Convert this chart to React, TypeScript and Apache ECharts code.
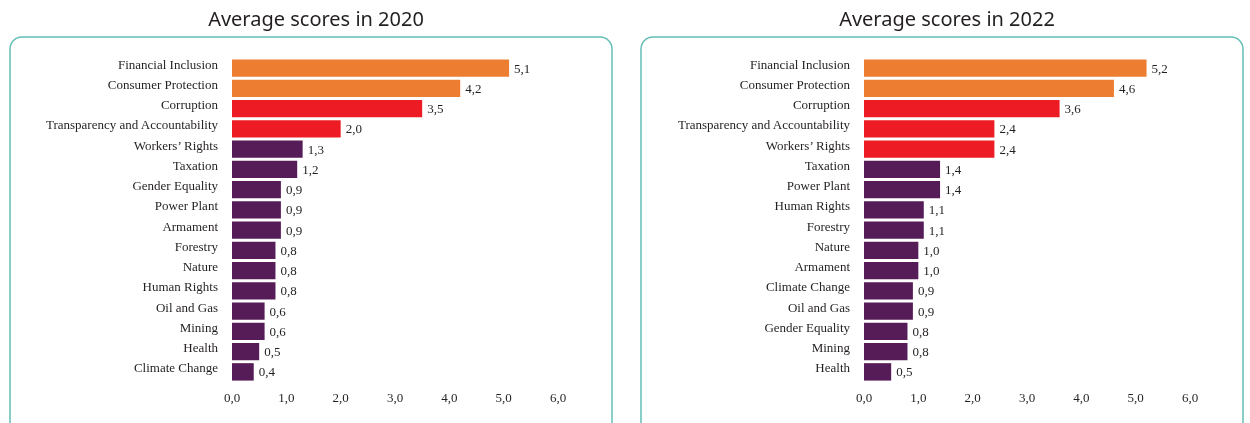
import React, { useEffect, useRef } from "react";
import * as echarts from "echarts";

const categories2020 = [
  "Financial Inclusion", "Consumer Protection", "Corruption", "Transparency and Accountability",
  "Workers’ Rights", "Taxation", "Gender Equality", "Power Plant", "Armament", "Forestry",
  "Nature", "Human Rights", "Oil and Gas", "Mining", "Health", "Climate Change",
];
const values2020 = [5.1, 4.2, 3.5, 2.0, 1.3, 1.2, 0.9, 0.9, 0.9, 0.8, 0.8, 0.8, 0.6, 0.6, 0.5, 0.4];
const tiers2020 = ["top", "top", "high", "high", "other", "other", "other", "other", "other", "other", "other", "other", "other", "other", "other", "other"];

const categories2022 = [
  "Financial Inclusion", "Consumer Protection", "Corruption", "Transparency and Accountability",
  "Workers’ Rights", "Taxation", "Power Plant", "Human Rights", "Forestry", "Nature",
  "Armament", "Climate Change", "Oil and Gas", "Gender Equality", "Mining", "Health",
];
const values2022 = [5.2, 4.6, 3.6, 2.4, 2.4, 1.4, 1.4, 1.1, 1.1, 1.0, 1.0, 0.9, 0.9, 0.8, 0.8, 0.5];
const tiers2022 = ["top", "top", "high", "high", "high", "other", "other", "other", "other", "other", "other", "other", "other", "other", "other", "other"];

const titles = ["Average scores in 2020", "Average scores in 2022"];

const tierColors: Record<string, string> = { top: "#ED7D31", high: "#ED1C24", other: "#561C58" };
const serif = "'Liberation Serif', 'DejaVu Serif', serif";
const sans = "'Noto Sans', 'Open Sans', sans-serif";
const fmt = (v: number) => v.toFixed(1).replace(".", ",");

export default function App() {
  const ref = useRef<HTMLDivElement>(null);
  useEffect(() => {
    if (!ref.current) return;
    const chart = echarts.init(ref.current, undefined, { renderer: "svg" });
    const panels = [
      { cats: categories2020, vals: values2020, tiers: tiers2020, left: 232, boxX: 10, cx: 311 },
      { cats: categories2022, vals: values2022, tiers: tiers2022, left: 864, boxX: 641, cx: 942 },
    ];
    chart.setOption({
      animation: false,
      title: panels.map((p, i) => ({
        text: titles[i],
        left: p.cx,
        textAlign: "center",
        top: 3,
        textStyle: { fontFamily: sans, fontSize: 20, fontWeight: "normal", color: "#231F20" },
      })),
      graphic: panels.map((p) => ({
        type: "rect",
        shape: { x: p.boxX, y: 37, width: 602, height: 410, r: 12 },
        style: { fill: "none", stroke: "#62BDB5", lineWidth: 1.5 },
        z: -1,
      })),
      grid: panels.map((p) => ({ left: p.left, width: 326, top: 58, height: 324 })),
      xAxis: panels.map((_, i) => ({
        type: "value",
        gridIndex: i,
        min: 0,
        max: 6,
        interval: 1,
        axisLine: { show: false },
        axisTick: { show: false },
        splitLine: { show: false },
        axisLabel: { formatter: (v: number) => fmt(v), fontFamily: serif, fontSize: 13, color: "#231F20", margin: 9 },
      })),
      yAxis: panels.map((p, i) => ({
        type: "category",
        gridIndex: i,
        data: p.cats,
        inverse: true,
        axisLine: { show: false },
        axisTick: { show: false },
        axisLabel: { fontFamily: serif, fontSize: 13, color: "#231F20", margin: 14, verticalAlign: "bottom", lineHeight: 8 },
      })),
      series: panels.map((p, i) => ({
        type: "bar",
        xAxisIndex: i,
        yAxisIndex: i,
        barCategoryGap: "14%",
        data: p.vals.map((v, j) => ({ value: v, itemStyle: { color: tierColors[p.tiers[j]] } })),
        label: {
          show: true,
          position: "right",
          distance: 5,
          formatter: (d: any) => fmt(d.value),
          fontFamily: serif,
          fontSize: 13,
          color: "#231F20",
        },
      })),
    });
    return () => chart.dispose();
  }, []);
  return <div ref={ref} style={{ position: "fixed", left: 0, top: 0, width: 1250, height: 423 }} />;
}
